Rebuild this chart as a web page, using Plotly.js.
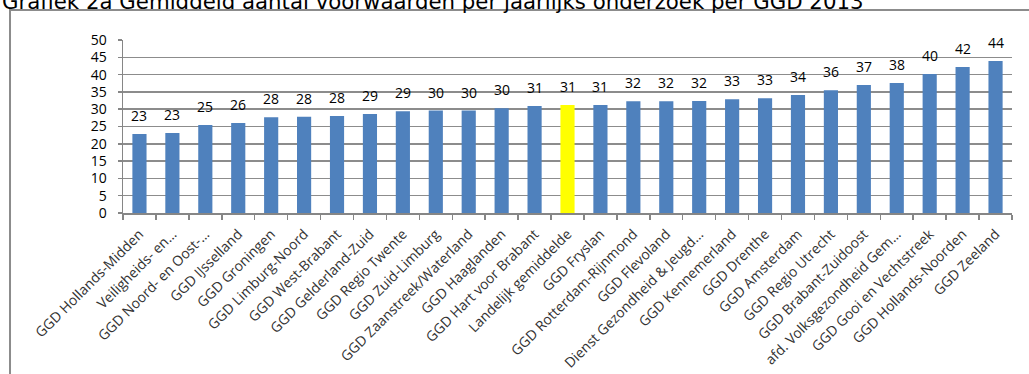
<!DOCTYPE html>
<html>
<head>
<meta charset="utf-8">
<script src="https://cdn.plot.ly/plotly-3.0.1.min.js"></script>
<style>html,body{margin:0;padding:0;background:#fff;}#chart{width:1029px;height:374px;}</style>
</head>
<body>
<div id="chart"></div>
<script>
const categories = [
  "GGD Hollands-Midden", "Veiligheids- en…", "GGD Noord- en Oost-…", "GGD IJsselland",
  "GGD Groningen", "GGD Limburg-Noord", "GGD West-Brabant", "GGD Gelderland-Zuid",
  "GGD Regio Twente", "GGD Zuid-Limburg", "GGD Zaanstreek/Waterland", "GGD Haaglanden",
  "GGD Hart voor Brabant", "Landelijk gemiddelde", "GGD Fryslan", "GGD Rotterdam-Rijnmond",
  "GGD Flevoland", "Dienst Gezondheid & Jeugd…", "GGD Kennemerland", "GGD Drenthe",
  "GGD Amsterdam", "GGD Regio Utrecht", "GGD Brabant-Zuidoost", "afd. Volksgezondheid Gem…",
  "GGD Gooi en Vechtstreek", "GGD Hollands-Noorden", "GGD Zeeland"
];
const values = [
  22.8, 23.1, 25.4, 26.0, 27.7, 27.8, 28.0, 28.6, 29.4, 29.6, 29.6, 30.3, 30.9, 31.2,
  31.2, 32.3, 32.3, 32.4, 32.9, 33.2, 34.1, 35.5, 37.0, 37.6, 40.2, 42.2, 43.9
];
const labels = ["23","23","25","26","28","28","28","29","29","30","30","30","31","31",
  "31","32","32","32","33","33","34","36","37","38","40","42","44"];
const yTicks = [0,5,10,15,20,25,30,35,40,45,50];
const highlight = "Landelijk gemiddelde";
const title = "Grafiek 2a Gemiddeld aantal voorwaarden per jaarlijks onderzoek per GGD 2013";

const barColors = categories.map(c => c === highlight ? "#FFFF00" : "#4F81BD");
const FONT = "Open Sans, sans-serif";

const trace = {
  type: "bar",
  x: categories,
  y: values,
  marker: {color: barColors, line: {width: 0}},
  hoverinfo: "x+y"
};

const annotations = categories.map((c, i) => ({
  x: c, y: values[i], xref: "x", yref: "y",
  text: labels[i], showarrow: false, yanchor: "bottom", yshift: 7,
  font: {family: FONT, size: 14, color: "#000"}
}));

const layout = {
  width: 1029, height: 374,
  margin: {l: 123, r: 17, t: 40, b: 161, pad: 0},
  paper_bgcolor: "#fff", plot_bgcolor: "#fff",
  showlegend: false,
  bargap: 0.57,
  title: {
    text: title, x: 0.002, xanchor: "left", xref: "container",
    y: 0.995, yref: "container", yanchor: "middle",
    font: {family: "DejaVu Sans, Verdana, sans-serif", size: 21.3, color: "#000"}
  },
  xaxis: {
    type: "category",
    tickangle: -45,
    tickfont: {family: FONT, size: 14, color: "#333"},
    ticklabelstandoff: 6,
    showline: true, linecolor: "#868686", linewidth: 1.5,
    ticks: "outside", tickson: "boundaries", ticklen: 5, tickcolor: "#868686", tickwidth: 1.5,
    showgrid: false, fixedrange: true, automargin: false
  },
  yaxis: {
    range: [0, 50],
    tickvals: yTicks,
    ticktext: yTicks.map(String),
    tickfont: {family: FONT, size: 14, color: "#000"},
    ticklabelstandoff: 8,
    showline: true, linecolor: "#868686", linewidth: 1.5,
    ticks: "outside", ticklen: 4, tickcolor: "#868686", tickwidth: 1.5,
    showgrid: true, gridcolor: "#8c8c8c", gridwidth: 1.5,
    zeroline: false, fixedrange: true, automargin: false
  },
  annotations: annotations,
  shapes: [{
    type: "rect", xref: "paper", yref: "paper",
    x0: -0.1271, x1: 1.05, y0: -1.2, y1: 1.1734,
    line: {color: "#8c8c8c", width: 2}, fillcolor: "rgba(0,0,0,0)", layer: "below"
  }]
};

Plotly.newPlot("chart", [trace], layout, {displayModeBar: false, staticPlot: true});
</script>
</body>
</html>
